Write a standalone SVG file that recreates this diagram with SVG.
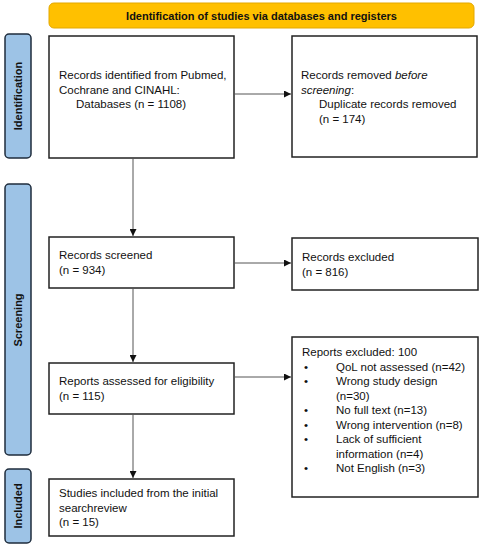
<svg xmlns="http://www.w3.org/2000/svg" width="483" height="550" viewBox="0 0 483 550">
<defs>
<style>
.box{fill:#fff;stroke:#222;stroke-width:1.5}
.side{fill:#9DC3E6;stroke:#1f2d3d;stroke-width:1.5}
.t{font-family:"Liberation Sans",Arial,sans-serif;font-size:11.5px;fill:#111}
.sl{font-family:"Liberation Sans",Arial,sans-serif;font-size:11px;font-weight:bold;fill:#111;text-anchor:middle}
.c{stroke:#555;stroke-width:1;fill:none;marker-end:url(#ah)}
</style>
<marker id="ah" viewBox="0 0 10 10" refX="10" refY="5" markerWidth="7" markerHeight="7" markerUnits="userSpaceOnUse" orient="auto">
<path d="M0,0 L10,5 L0,10 z" fill="#111"/>
</marker>
</defs>
<rect width="483" height="550" fill="#fff"/>
<g id="banner">
<rect x="49" y="3" width="425" height="25" rx="5" fill="#FFC000" stroke="#E3A800" stroke-width="1"/>
<text class="sl" x="261.5" y="19.5">Identification of studies via databases and registers</text>
</g>
<g id="side-identification">
<rect class="side" x="5" y="34" width="26" height="124" rx="4"/>
<text class="sl" transform="translate(22,96) rotate(-90)">Identification</text>
</g>
<g id="side-screening">
<rect class="side" x="5" y="184" width="26" height="271" rx="4"/>
<text class="sl" transform="translate(22,320) rotate(-90)">Screening</text>
</g>
<g id="side-included">
<rect class="side" x="5" y="469" width="26" height="74" rx="4"/>
<text class="sl" transform="translate(22,506) rotate(-90)">Included</text>
</g>
<g id="records-identified">
<rect class="box" x="49" y="36" width="185" height="122"/>
<text class="t" x="59" y="79">Records identified from Pubmed,</text>
<text class="t" x="59" y="93.5">Cochrane and CINAHL:</text>
<text class="t" x="76" y="108">Databases (n = 1108)</text>
</g>
<g id="records-removed">
<rect class="box" x="292" y="36" width="185" height="121"/>
<text class="t" x="301" y="79">Records removed <tspan font-style="italic">before</tspan></text>
<text class="t" x="301" y="93.5"><tspan font-style="italic">screening</tspan>:</text>
<text class="t" x="319" y="108">Duplicate records removed</text>
<text class="t" x="319" y="122.5">(n = 174)</text>
</g>
<g id="records-screened">
<rect class="box" x="49" y="237" width="185" height="51"/>
<text class="t" x="59" y="259">Records screened</text>
<text class="t" x="59" y="273.5">(n = 934)</text>
</g>
<g id="records-excluded">
<rect class="box" x="292" y="238" width="186" height="52"/>
<text class="t" x="302" y="261">Records excluded</text>
<text class="t" x="302" y="275.5">(n = 816)</text>
</g>
<g id="reports-assessed">
<rect class="box" x="49" y="363" width="185" height="51"/>
<text class="t" x="59" y="385">Reports assessed for eligibility</text>
<text class="t" x="59" y="399.5">(n = 115)</text>
</g>
<g id="reports-excluded">
<rect class="box" x="292" y="337" width="186" height="160"/>
<text class="t" x="302" y="356">Reports excluded: 100</text>
<g class="t">
<text x="304" y="370.5">•</text><text x="336" y="370.5">QoL not assessed (n=42)</text>
<text x="304" y="385">•</text><text x="336" y="385">Wrong study design</text>
<text x="336" y="399.5">(n=30)</text>
<text x="304" y="414">•</text><text x="336" y="414">No full text (n=13)</text>
<text x="304" y="428.5">•</text><text x="336" y="428.5">Wrong intervention (n=8)</text>
<text x="304" y="443">•</text><text x="336" y="443">Lack of sufficient</text>
<text x="336" y="457.5">information (n=4)</text>
<text x="304" y="472">•</text><text x="336" y="472">Not English (n=3)</text>
</g>
</g>
<g id="studies-included">
<rect class="box" x="49" y="479" width="185" height="57"/>
<text class="t" x="59" y="497">Studies included from the initial</text>
<text class="t" x="59" y="511.5">searchreview</text>
<text class="t" x="59" y="526">(n = 15)</text>
</g>
<g id="connectors">
<line class="c" x1="234" y1="94" x2="291" y2="94"/>
<line class="c" x1="133" y1="158" x2="133" y2="236"/>
<line class="c" x1="234" y1="263" x2="291" y2="263"/>
<line class="c" x1="133" y1="288" x2="133" y2="362"/>
<line class="c" x1="234" y1="377" x2="291" y2="377"/>
<line class="c" x1="133" y1="414" x2="133" y2="478"/>
</g>
</svg>
